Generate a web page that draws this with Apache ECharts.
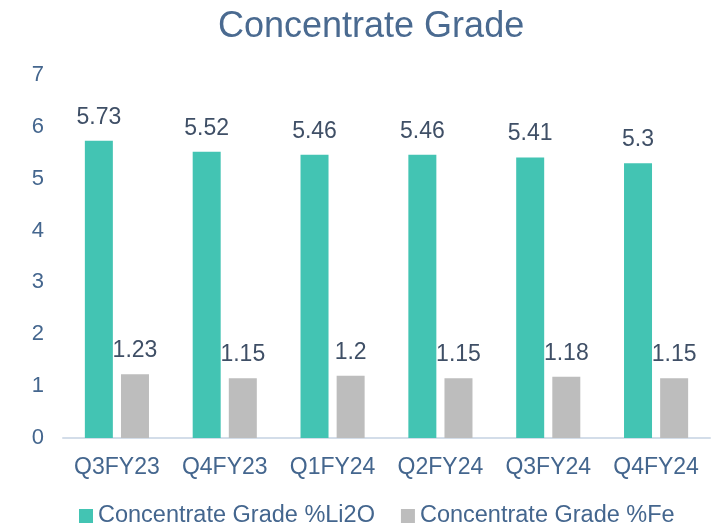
<!DOCTYPE html>
<html>
<head>
<meta charset="utf-8">
<script src="https://cdn.jsdelivr.net/npm/echarts@6/dist/echarts.min.js"></script>
<style>
  html, body { margin: 0; padding: 0; background: #fff; }
</style>
</head>
<body>
<div id="main" style="width: 720px; height: 531px;"></div>
<script>
// chart data
const quarters = ['Q3FY23', 'Q4FY23', 'Q1FY24', 'Q2FY24', 'Q3FY24', 'Q4FY24'];
const li2o = [5.73, 5.52, 5.46, 5.46, 5.41, 5.3];
const fe = [1.23, 1.15, 1.2, 1.15, 1.18, 1.15];

const font = 'Liberation Sans, Arial, sans-serif';
const axisColor = '#44668E';
const labelColor = '#3F4F66';

let myChart = echarts.init(document.getElementById('main'));
let option = {
  title: {
    text: 'Concentrate Grade',
    left: 213,
    top: 4,
    textStyle: { color: '#4A6A90', fontSize: 36, fontWeight: 'normal', fontFamily: font }
  },
  legend: {
    left: 74,
    bottom: -2,
    itemWidth: 14,
    itemHeight: 14,
    itemGap: 26,
    icon: 'rect',
    textStyle: { color: axisColor, fontSize: 23.5, fontFamily: font },
    data: ['Concentrate Grade %Li2O', 'Concentrate Grade %Fe']
  },
  grid: { left: 63, right: 10, top: 75, bottom: 93 },
  xAxis: {
    type: 'category',
    data: quarters,
    axisTick: { show: false },
    axisLine: { lineStyle: { color: '#D3DDE9', width: 2 } },
    axisLabel: { interval: 0, color: axisColor, fontSize: 23, fontFamily: font, margin: 18 }
  },
  yAxis: {
    type: 'value',
    min: 0,
    max: 7,
    interval: 1,
    splitLine: { show: false },
    axisLabel: { color: axisColor, fontSize: 22, fontFamily: font, margin: 19 }
  },
  series: [
    {
      name: 'Concentrate Grade %Li2O',
      type: 'bar',
      data: li2o,
      barWidth: 28,
      barGap: '29%',
      itemStyle: { color: '#43C4B3' },
      label: { show: true, position: 'top', distance: 12, color: labelColor, fontSize: 23, fontFamily: font }
    },
    {
      name: 'Concentrate Grade %Fe',
      type: 'bar',
      data: fe,
      barWidth: 28,
      itemStyle: { color: '#BDBDBD' },
      label: { show: true, position: 'top', distance: 12, color: labelColor, fontSize: 23, fontFamily: font }
    }
  ]
};
myChart.setOption(option);
</script>
</body>
</html>
